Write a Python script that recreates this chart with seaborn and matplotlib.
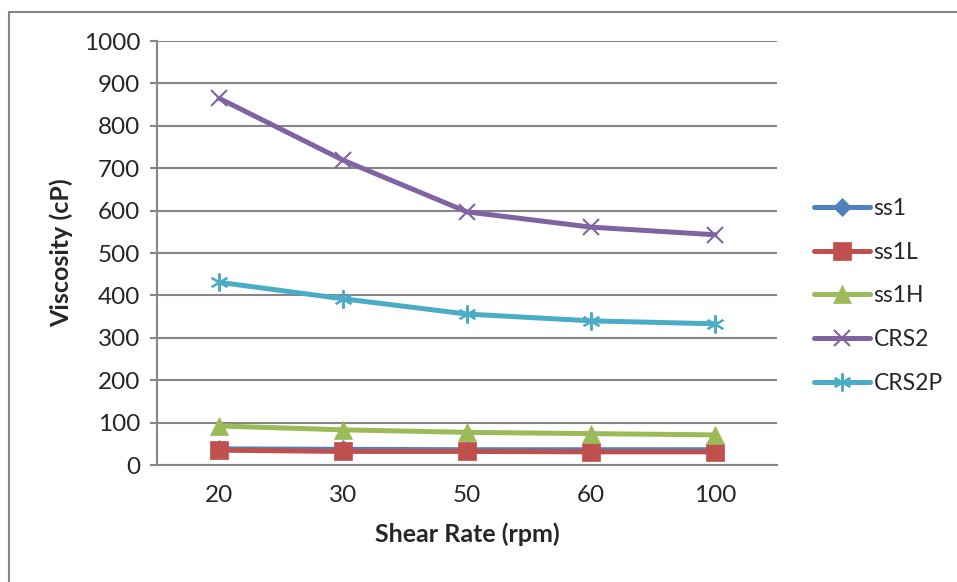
import matplotlib
matplotlib.use("Agg")
import matplotlib.pyplot as plt
import seaborn as sns
import pandas as pd
from matplotlib.patches import Rectangle

shear_rates = ["20", "30", "50", "60", "100"]
ss1 = [38, 37, 36, 36, 36]
ss1L = [35, 32, 32, 31, 31]
ss1H = [92, 83, 77, 74, 71]
CRS2 = [865, 719, 597, 561, 543]
CRS2P = [431, 392, 356, 340, 333]

series = {"ss1": ss1, "ss1L": ss1L, "ss1H": ss1H, "CRS2": CRS2, "CRS2P": CRS2P}
colors = {"ss1": "#4F81BD", "ss1L": "#C0504D", "ss1H": "#9BBB59",
          "CRS2": "#8064A2", "CRS2P": "#4BACC6"}
markers = {"ss1": "D", "ss1L": "s", "ss1H": "^", "CRS2": "x", "CRS2P": (6, 2, 0)}
msizes = {"ss1": 9, "ss1L": 12.5, "ss1H": 13, "CRS2": 12, "CRS2P": 13}

sns.set_style("white")
plt.rcParams['font.family'] = ['Lato', 'DejaVu Sans']

fig = plt.figure(figsize=(9.57, 5.82), dpi=100)
fig.patches.append(Rectangle((9/957, -0.1), 1.2, (582-12)/582 + 0.1,
                             transform=fig.transFigure, fill=False,
                             edgecolor="#868686", linewidth=1.5))
ax = fig.add_axes([157/957, 117/582, 620/957, 424/582])

df = pd.DataFrame([(s, r, v) for s, vals in series.items() for r, v in zip(shear_rates, vals)],
                  columns=["series", "rate", "visc"])

for name in series:
    sub = df[df.series == name]
    sns.lineplot(data=sub, x="rate", y="visc", ax=ax, color=colors[name],
                 marker=markers[name], markersize=msizes[name], linewidth=3.6,
                 markeredgecolor=colors[name], markeredgewidth=1.5 if name in ("CRS2", "CRS2P") else 0.5,
                 label=name, sort=False)

ax.set_xlim(-0.5, 4.5)
ax.set_ylim(0, 1000)
ax.set_yticks(range(0, 1001, 100))
ax.grid(axis="y", color="#868686", linewidth=1.5)
ax.grid(axis="x", visible=False)
ax.set_axisbelow(True)
for s in ["top", "right"]:
    ax.spines[s].set_visible(False)
for s in ["left", "bottom"]:
    ax.spines[s].set_color("#868686")
    ax.spines[s].set_linewidth(1.5)
ax.tick_params(axis="y", which="both", left=True, length=5, width=1.5, color="#868686",
               labelsize=17.5, pad=7)
ax.tick_params(axis="x", bottom=False, labelsize=17.5, pad=11)
ax.set_xlabel("Shear Rate (rpm)", fontsize=18, fontweight="bold", labelpad=12)
ax.set_ylabel("Viscosity (cP)", fontsize=18, fontweight="bold", labelpad=8)

leg = ax.legend(loc="center left", bbox_to_anchor=(814/957, 286/582), bbox_transform=fig.transFigure,
                frameon=False, fontsize=16.5, labelspacing=1.0, handlelength=2.45,
                handletextpad=0.15, borderpad=0, borderaxespad=0)

fig.savefig("out.png", dpi=100)
